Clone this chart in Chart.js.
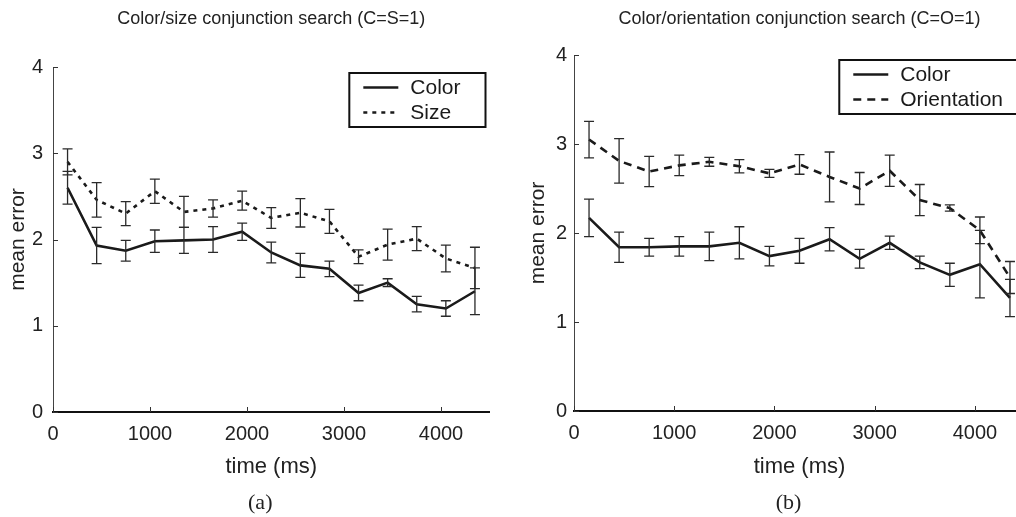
<!DOCTYPE html>
<html><head><meta charset="utf-8">
<script src="https://cdn.jsdelivr.net/npm/chart.js@4.4.1/dist/chart.umd.min.js"></script>
<style>
html,body{margin:0;padding:0;background:#fff;overflow:hidden;width:1016px;height:517px;position:relative;}
#wrapA{position:absolute;left:0;top:0;width:510px;height:517px;}
#wrapB{position:absolute;left:510px;top:0;width:530px;height:517px;}
canvas{display:block;}
</style></head><body>
<div id="wrapA"><canvas id="cA" width="510" height="517"></canvas></div>
<div id="wrapB"><canvas id="cB" width="530" height="517"></canvas></div>
<script>
// ---- data ----
const times = [150, 450, 750, 1050, 1350, 1650, 1950, 2250, 2550, 2850, 3150, 3450, 3750, 4050, 4350];
const xTickValues = [0, 1000, 2000, 3000, 4000];
const yTickValues = [0, 1, 2, 3, 4];

const titleA = 'Color/size conjunction search (C=S=1)';
const titleB = 'Color/orientation conjunction search (C=O=1)';
const panelA = '(a)';
const panelB = '(b)';
const xLabel = 'time (ms)';
const yLabel = 'mean error';

const colorA    = [2.60, 1.93, 1.87, 1.98, 1.99, 2.00, 2.09, 1.85, 1.70, 1.66, 1.38, 1.50, 1.25, 1.20, 1.40];
const colorAErr = [0.19, 0.21, 0.12, 0.13, 0.15, 0.15, 0.10, 0.12, 0.14, 0.09, 0.09, 0.045, 0.09, 0.09, 0.27];
const sizeA     = [2.90, 2.46, 2.30, 2.56, 2.32, 2.36, 2.45, 2.25, 2.31, 2.21, 1.80, 1.94, 2.01, 1.78, 1.67];
const sizeAErr  = [0.15, 0.20, 0.14, 0.14, 0.18, 0.10, 0.11, 0.12, 0.165, 0.14, 0.08, 0.18, 0.14, 0.155, 0.24];

const colorB    = [2.17, 1.84, 1.84, 1.85, 1.85, 1.89, 1.74, 1.80, 1.93, 1.71, 1.89, 1.67, 1.53, 1.65, 1.27];
const colorBErr = [0.21, 0.17, 0.10, 0.11, 0.16, 0.18, 0.11, 0.14, 0.13, 0.105, 0.075, 0.07, 0.13, 0.38, 0.21];
const orientB    = [3.05, 2.81, 2.69, 2.76, 2.80, 2.75, 2.67, 2.77, 2.63, 2.50, 2.70, 2.37, 2.28, 2.03, 1.50];
const orientBErr = [0.205, 0.25, 0.17, 0.115, 0.05, 0.075, 0.045, 0.11, 0.28, 0.18, 0.175, 0.175, 0.035, 0.15, 0.18];

// ---- helpers ----
const FONT = "'Liberation Sans', Arial, Helvetica, sans-serif";
const INK = '#1a1a1a';

function pts(vals) { return times.map((t, i) => ({x: t, y: vals[i]})); }

function ds(label, vals, errs, dash) {
  return {
    label, data: pts(vals), errors: errs,
    borderColor: INK, borderWidth: 2.6, borderDash: dash,
    pointRadius: 0, tension: 0, fill: false
  };
}

const errorBarPlugin = {
  id: 'errorBars',
  afterDatasetsDraw(chart) {
    const ctx = chart.ctx, xs = chart.scales.x, ys = chart.scales.y;
    ctx.save();
    ctx.strokeStyle = '#2a2a2a';
    ctx.lineWidth = 1.3;
    ctx.setLineDash([]);
    chart.data.datasets.forEach(d => {
      d.data.forEach((p, i) => {
        const e = d.errors[i];
        const x = xs.getPixelForValue(p.x);
        const y1 = ys.getPixelForValue(p.y + e);
        const y2 = ys.getPixelForValue(p.y - e);
        ctx.beginPath();
        ctx.moveTo(x, y1); ctx.lineTo(x, y2);
        ctx.moveTo(x - 5, y1); ctx.lineTo(x + 5, y1);
        ctx.moveTo(x - 5, y2); ctx.lineTo(x + 5, y2);
        ctx.stroke();
      });
    });
    ctx.restore();
  }
};

const innerTicksPlugin = {
  id: 'innerTicks',
  afterDraw(chart) {
    const ctx = chart.ctx, xs = chart.scales.x, ys = chart.scales.y, a = chart.chartArea;
    ctx.save();
    ctx.strokeStyle = '#333';
    ctx.lineWidth = 1;
    ctx.beginPath();
    xs.ticks.forEach(t => {
      const x = Math.round(xs.getPixelForValue(t.value)) + 0.5;
      ctx.moveTo(x, a.bottom); ctx.lineTo(x, a.bottom - 5);
    });
    ys.ticks.forEach(t => {
      const y = Math.round(ys.getPixelForValue(t.value)) + 0.5;
      ctx.moveTo(a.left, y); ctx.lineTo(a.left + 5, y);
    });
    ctx.stroke();
    ctx.restore();
  }
};

const decorPlugin = {
  id: 'decor',
  afterDraw(chart, args, opts) {
    const ctx = chart.ctx, a = chart.chartArea;
    const cx = (a.left + a.right) / 2;
    ctx.save();
    ctx.fillStyle = '#222';
    ctx.textAlign = 'center';
    ctx.textBaseline = 'middle';
    ctx.font = '18px ' + FONT;
    ctx.fillText(opts.title, cx, 19);
    ctx.font = "22px 'Liberation Serif', 'Times New Roman', serif";
    ctx.fillText(opts.panel, cx - 11, 503);
    // legend
    ctx.font = '21px ' + FONT;
    const tw = Math.max(...chart.data.datasets.map(d => ctx.measureText(d.label).width));
    const right = a.right - 4;
    const w = 14 + 35 + 12 + tw + opts.legendPadR;
    const left = right - w;
    const top = a.top + opts.legendTop;
    const h = 54;
    ctx.fillStyle = '#fff';
    ctx.fillRect(left, top, w, h);
    ctx.strokeStyle = '#111';
    ctx.lineWidth = 2;
    ctx.strokeRect(left, top, w, h);
    chart.data.datasets.forEach((d, i) => {
      const y = top + 14.5 + i * 25;
      ctx.beginPath();
      ctx.setLineDash(d.borderDash || []);
      ctx.lineWidth = d.borderWidth;
      ctx.strokeStyle = d.borderColor;
      ctx.moveTo(left + 14, y); ctx.lineTo(left + 49, y);
      ctx.stroke();
      ctx.setLineDash([]);
      ctx.fillStyle = '#1a1a1a';
      ctx.textAlign = 'left';
      ctx.fillText(d.label, left + 61, y + 1);
    });
    ctx.restore();
  }
};

function makeChart(id, datasets, cfg) {
  return new Chart(document.getElementById(id), {
    type: 'line',
    data: { datasets },
    options: {
      responsive: false,
      animation: false,
      layout: { padding: cfg.padding },
      plugins: {
        legend: { display: false },
        tooltip: { enabled: false },
        decor: { title: cfg.title, panel: cfg.panel, legendTop: cfg.legendTop, legendPadR: cfg.legendPadR }
      },
      scales: {
        x: {
          type: 'linear', min: 0, max: 4500,
          afterBuildTicks: s => { s.ticks = xTickValues.map(v => ({value: v})); },
          afterFit: s => { s.height = cfg.xHeight; },
          grid: { display: false, drawTicks: false },
          border: { display: true, color: '#111', width: 2 },
          ticks: { font: { size: 20, family: FONT }, color: '#222', padding: 10, maxRotation: 0, autoSkip: false,
                   callback: v => String(v) },
          title: { display: true, text: xLabel, color: '#222', font: { size: 22, family: FONT }, padding: { top: 0, bottom: 36.8 } }
        },
        y: {
          type: 'linear', min: 0, max: 4,
          afterBuildTicks: s => { s.ticks = yTickValues.map(v => ({value: v})); },
          afterFit: s => { s.width = cfg.yWidth; },
          grid: { display: false, drawTicks: false },
          border: { display: true, color: '#444', width: 1 },
          ticks: { font: { size: 20, family: FONT }, color: '#222', padding: cfg.yPad, callback: v => String(v) },
          title: { display: true, text: yLabel, color: '#222', font: { size: 21, family: FONT }, padding: { top: cfg.yTitlePad, bottom: 0 } }
        }
      }
    },
    plugins: [errorBarPlugin, innerTicksPlugin, decorPlugin]
  });
}

makeChart('cA', [
  ds('Color', colorA, colorAErr, []),
  ds('Size', sizeA, sizeAErr, [4, 5])
], { padding: { top: 67, right: 20.5, bottom: 0, left: 0 }, xHeight: 105, yWidth: 53, yPad: 10, yTitlePad: 5.4,
     title: titleA, panel: panelA, legendTop: 6, legendPadR: 25 });

makeChart('cB', [
  ds('Color', colorB, colorBErr, []),
  ds('Orientation', orientB, orientBErr, [8, 6])
], { padding: { top: 55, right: 15, bottom: 0, left: 0 }, xHeight: 106, yWidth: 64, yPad: 7, yTitlePad: 15.4,
     title: titleB, panel: panelB, legendTop: 5, legendPadR: 18 });
</script>
</body></html>
